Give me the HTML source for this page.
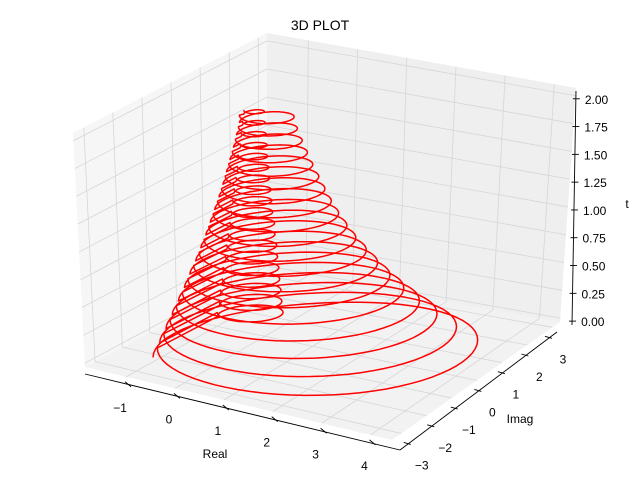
<!DOCTYPE html>
<html><head><meta charset="utf-8"><style>
html,body{margin:0;padding:0;background:#fff;}
svg{display:block;font-family:"Liberation Sans","DejaVu Sans",sans-serif;}
</style></head><body>
<svg id="chart" width="640" height="480" viewBox="0 0 640 480" xmlns="http://www.w3.org/2000/svg">
<rect width="640" height="480" fill="#fff"/>
<g id="panes"></g><g id="grid"></g><g id="axes"></g><g id="curve"></g>
<text x="320" y="30" font-size="14" text-anchor="middle">3D PLOT</text>
<text x="215" y="458" font-size="12" text-anchor="middle">Real</text>
<text x="520" y="423" font-size="12" text-anchor="middle">Imag</text>
<text x="627" y="208" font-size="12" text-anchor="middle">t</text>
</svg>
<script>
// per-turn data of the spiral (bottom turn first)
const turnZ   = [0.00,0.10,0.20,0.30,0.40,0.50,0.60,0.70,0.80,0.90,1.00,1.10,1.20,1.30,1.40,1.50,1.60,1.70,1.80];
const bigCx   = [1.40,1.20,1.02,0.86,0.72,0.60,0.49,0.40,0.31,0.24,0.17,0.11,0.06,0.01,-0.04,-0.08,-0.12,-0.16,-0.20];
const bigCy   = [-0.43,-0.36,-0.30,-0.24,-0.18,-0.12,-0.06,0.00,0.05,0.10,0.15,0.20,0.25,0.30,0.34,0.38,0.42,0.46,0.50];
const bigR    = [3.05,2.78,2.53,2.30,2.09,1.90,1.73,1.57,1.42,1.29,1.17,1.06,0.96,0.87,0.78,0.70,0.62,0.55,0.48];
const smallCx = [-0.48,-0.47,-0.47,-0.46,-0.46,-0.45,-0.45,-0.45,-0.44,-0.44,-0.44,-0.43,-0.43,-0.42,-0.42,-0.41,-0.41,-0.41,-0.40];
const smallCy = [0.32,0.32,0.33,0.33,0.34,0.34,0.35,0.35,0.36,0.36,0.37,0.37,0.38,0.38,0.38,0.39,0.39,0.40,0.40];
const smallR  = [0.60,0.57,0.55,0.52,0.50,0.47,0.45,0.42,0.40,0.37,0.35,0.33,0.30,0.28,0.26,0.24,0.22,0.20,0.18];
const realTicks = [-1,0,1,2,3,4];
const imagTicks = [-3,-2,-1,0,1,2,3];
const zTicks = [0,0.25,0.5,0.75,1,1.25,1.5,1.75,2];
const zTickLabels = ["0.00","0.25","0.50","0.75","1.00","1.25","1.50","1.75","2.00"];

const XMIN=-1.84,XMAX=4.44,YMIN=-3.37,YMAX=3.3,ZLO=-0.035,ZHI=2.07;
const Ab=[85,367],Bb=[392,440],Cb=[560,322],Db=[267,270];
const At=[73,133],Bt=[385,206],Ct=[576,88],Dt=[267,33];
function bil(P,Q,R,S,u,v){return [P[0]*(1-u)*(1-v)+Q[0]*u*(1-v)+R[0]*u*v+S[0]*(1-u)*v, P[1]*(1-u)*(1-v)+Q[1]*u*(1-v)+R[1]*u*v+S[1]*(1-u)*v];}
function proj(x,y,z){
  const u=(x-XMIN)/(XMAX-XMIN), v=(y-YMIN)/(YMAX-YMIN), w=(z-ZLO)/(ZHI-ZLO);
  const b=bil(Ab,Bb,Cb,Db,u,v), t=bil(At,Bt,Ct,Dt,u,v);
  return [b[0]+(t[0]-b[0])*w, b[1]+(t[1]-b[1])*w];
}
const NS="http://www.w3.org/2000/svg";
function mk(tag,attrs,parent){const e=document.createElementNS(NS,tag);for(const k in attrs)e.setAttribute(k,attrs[k]);parent.appendChild(e);return e;}
function pts(a){return a.map(p=>p[0].toFixed(1)+","+p[1].toFixed(1)).join(" ");}
const panes=document.getElementById('panes'),grid=document.getElementById('grid'),axes=document.getElementById('axes'),curve=document.getElementById('curve');

let e;
e=mk('polygon',{points:pts([proj(XMIN,YMIN,ZLO),proj(XMAX,YMIN,ZLO),proj(XMAX,YMAX,ZLO),proj(XMIN,YMAX,ZLO)]),fill:'#f2f2f2'},panes);


e=mk('polygon',{points:pts([proj(XMIN,YMIN,ZLO),proj(XMIN,YMAX,ZLO),proj(XMIN,YMAX,ZHI),proj(XMIN,YMIN,ZHI)]),fill:'#f6f6f6'},panes);


e=mk('polygon',{points:pts([proj(XMIN,YMAX,ZLO),proj(XMAX,YMAX,ZLO),proj(XMAX,YMAX,ZHI),proj(XMIN,YMAX,ZHI)]),fill:'#efefef'},panes);



function gl(p,q,name){const l=mk('line',{x1:p[0],y1:p[1],x2:q[0],y2:q[1],stroke:'#d6d6d6','stroke-width':0.8},grid);

}
realTicks.forEach(x=>{gl(proj(x,YMIN,ZLO),proj(x,YMAX,ZLO),'real-gridline');gl(proj(x,YMAX,ZLO),proj(x,YMAX,ZHI),'real-gridline');});
imagTicks.forEach(y=>{gl(proj(XMIN,y,ZLO),proj(XMAX,y,ZLO),'imag-gridline');gl(proj(XMIN,y,ZLO),proj(XMIN,y,ZHI),'imag-gridline');});
zTicks.forEach(z=>{gl(proj(XMIN,YMIN,z),proj(XMIN,YMAX,z),'t-gridline');gl(proj(XMIN,YMAX,z),proj(XMAX,YMAX,z),'t-gridline');});

function al(p,q,name){const l=mk('line',{x1:p[0],y1:p[1],x2:q[0],y2:q[1],stroke:'#000','stroke-width':0.9},axes);

}
function off(p,o){return [p[0]+o[0],p[1]+o[1]];}
al(off(proj(XMIN,YMIN,ZLO),[0,7]),[400,450],'real-axis-line');
al([400,450],[557,332],'imag-axis-line');
al([572,325],[576,91],'t-axis-line');
realTicks.forEach(x=>{
  const p=off(proj(x,YMIN,ZLO),[2,7]);
  const t=mk('line',{x1:p[0]-3,y1:p[1]-2,x2:p[0]+3,y2:p[1]+3,stroke:'#000','stroke-width':0.9},axes);
  
  
  const tx=mk('text',{x:p[0]-8,y:p[1]+28,'font-size':12,'text-anchor':'middle'},axes);
  tx.textContent=(x<0?'\u2212'+(-x):String(x));
  
  
});
imagTicks.forEach(y=>{
  const f=(y-YMIN)/(YMAX-YMIN);
  const p=[400+(557-400)*f,450+(332-450)*f];
  const t=mk('line',{x1:p[0]-5,y1:p[1]-1,x2:p[0]+2,y2:p[1]+1,stroke:'#000','stroke-width':0.9},axes);
  
  
  const tx=mk('text',{x:p[0]+13,y:p[1]+26,'font-size':12,'text-anchor':'middle'},axes);
  tx.textContent=(y<0?'\u2212'+(-y):String(y));
  
  
});
zTicks.forEach((z,i)=>{
  const f=(z-ZLO)/(ZHI-ZLO);
  const p=[572+4*f,325-234*f];
  const t=mk('line',{x1:p[0]-3,y1:p[1],x2:p[0]+4,y2:p[1],stroke:'#000','stroke-width':0.9},axes);
  
  
  const tx=mk('text',{x:p[0]+9,y:p[1]+5,'font-size':12},axes);
  tx.textContent=zTickLabels[i];
  
  
});

// loop shape (tilted ellipse in data plane so it appears nearly level on screen)
function loopPt(cx,cy,r,th){
  const c=Math.cos(th), s=Math.sin(th);
  return [cx + r*(0.79*c + 0.42*s), cy + r*(0.63*c - 0.75*s)];
}
const path=[];
const N=turnZ.length;
for(let i=0;i<N;i++){
  const z0=turnZ[i], z1=(i+1<N?turnZ[i+1]:turnZ[i]+(turnZ[i]-turnZ[i-1]));
  const j=Math.min(i+1,N-1);
  const nb=72, ns=36, fz=0.65;
  for(let k=0;k<=nb;k++){
    const s=k/nb, th=Math.PI+2*Math.PI*s;
    const cx=bigCx[i]+(bigCx[j]-bigCx[i])*s*fz, cy=bigCy[i]+(bigCy[j]-bigCy[i])*s*fz;
    const r=bigR[i]+(bigR[j]-bigR[i])*s*fz;
    const q=loopPt(cx,cy,r,th);
    path.push(proj(q[0],q[1], z0+(z1-z0)*fz*s));
  }
  for(let k=0;k<=ns;k++){
    const s=k/ns, th=Math.PI+2*Math.PI*s;
    const q=loopPt(smallCx[i],smallCy[i],smallR[i],th);
    path.push(proj(q[0],q[1], z0+(z1-z0)*(fz+(1-fz)*s)));
  }
}
const pl=mk('polyline',{points:pts(path),fill:'none',stroke:'#ff0000','stroke-width':1.5,'stroke-linejoin':'round'},curve);


</script>
</body></html>
